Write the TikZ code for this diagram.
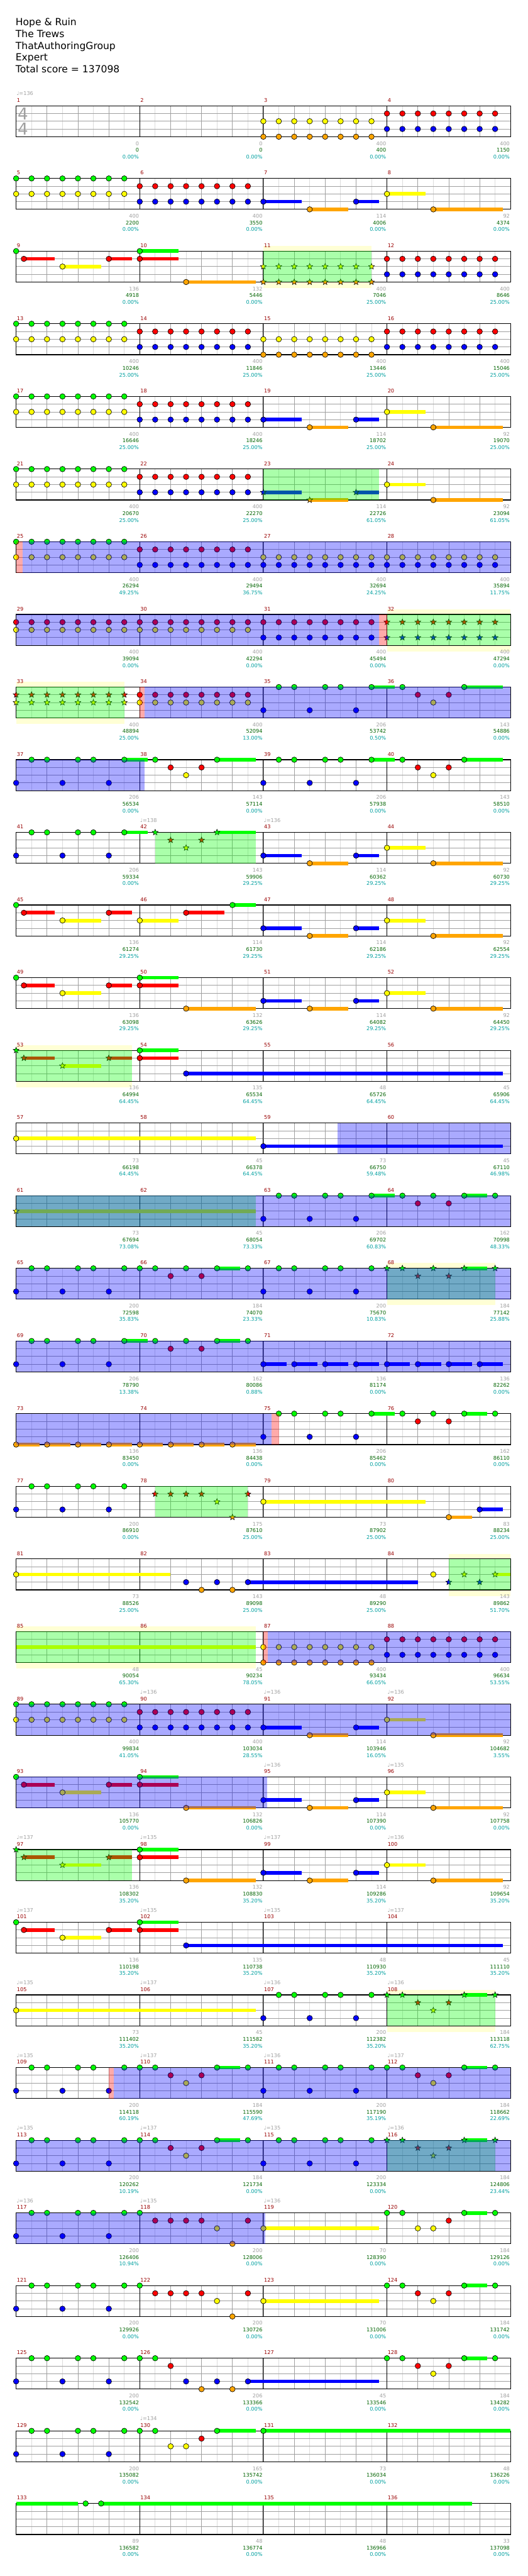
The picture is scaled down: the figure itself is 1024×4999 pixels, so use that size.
\documentclass[tikz,border=0pt]{standalone}
\usepackage{fontspec}
\setmainfont{DejaVu Sans}
\usetikzlibrary{shapes.geometric}
\definecolor{lane0}{HTML}{00FF00}
\definecolor{lane1}{HTML}{FF0000}
\definecolor{lane2}{HTML}{FFFF00}
\definecolor{lane3}{HTML}{0000FF}
\definecolor{lane4}{HTML}{FFA500}
\definecolor{gridgray}{HTML}{A0A0A0}
\definecolor{halfgray}{HTML}{DCDCDC}
\definecolor{barred}{HTML}{990000}
\definecolor{scoregreen}{HTML}{006400}
\definecolor{pctcyan}{HTML}{00A0A0}
\definecolor{phraseyellow}{HTML}{FFFFD5}
\tikzset{
  gem/.style={draw=black,line width=0.4pt},
  sgem/.style={star,star points=5,star point ratio=2.3,draw=black,fill=#1,line width=0.35pt,inner sep=0pt,minimum size=6pt},
  sustain/.style={draw=#1,line width=3.5pt},
  halfbeat/.style={draw=halfgray,line width=0.5pt},
  gridline/.style={draw=gridgray,line width=0.5pt},
  barline/.style={draw=black,line width=0.55pt},
  staffedge/.style={draw=black,line width=0.7pt},
  spg/.style={fill=lane0,fill opacity=0.333},
  spb/.style={fill=lane3,fill opacity=0.333},
  spp/.style={fill=lane1,fill opacity=0.333},
  phrasebg/.style={fill=phraseyellow},
  tinytext/.style={font=\fontsize{5}{6}\selectfont,inner sep=0pt},
  mnum/.style={tinytext,text=barred,anchor=base west},
  tempo/.style={tinytext,text=gridgray,anchor=base west},
  scgray/.style={tinytext,text=gridgray,anchor=base east},
  scgreen/.style={tinytext,text=scoregreen,anchor=base east},
  scpct/.style={tinytext,text=pctcyan,anchor=base east},
  timesig/.style={font=\fontsize{16}{16}\selectfont,text=gridgray,inner sep=0pt},
  heading/.style={font=\fontsize{9.5}{11}\selectfont,anchor=base west,inner sep=0pt},
  staffrow/.style={shift={(31.3,64.3+141*#1)},x=7.5pt,y=-7.5pt}
}
\newcommand{\staffgrid}{%
  \fill[white] (0,0) rectangle (64,4);
  \foreach \x in {2,6,...,62} {\draw[halfbeat] (\x,0) -- (\x,4);}
  \foreach \x in {4,8,...,60} {\draw[gridline] (\x,0) -- (\x,4);}
  \foreach \y in {1,2,3} {\draw[gridline] (0,\y) -- (64,\y);}
  \foreach \x in {16,32,48} {\draw[barline] (\x,0) -- (\x,4);}
  \draw[staffedge] (0,0) rectangle (64,4);}
\newcommand{\gem}[2]{\filldraw[gem,fill=lane#2] (#1,#2) circle[radius=2.65pt];}
\newcommand{\gemsus}[3]{\draw[sustain=lane#2] (#1,#2) -- (#3,#2);\gem{#1}{#2}}
\newcommand{\stargem}[2]{\node[sgem=lane#2] at (#1,#2) {};}
\newcommand{\starsus}[3]{\draw[sustain=lane#2] (#1,#2) -- (#3,#2);\stargem{#1}{#2}}
\newcommand{\gemrun}[2]{\foreach \p in {0,2,...,14} {\gem{#1+\p}{#2}}}
\newcommand{\starrun}[2]{\foreach \p in {0,2,...,14} {\stargem{#1+\p}{#2}}}
\newcommand{\riff}[1]{\foreach \p in {0,6,12} {\gem{#1+\p}{3}}\foreach \p in {2,4,8,10} {\gem{#1+\p}{0}}}
\newcommand{\backhalf}{\gemsus{32}{3}{37}\gemsus{38}{4}{43}\gemsus{44}{3}{47}\gemsus{48}{2}{53}\gemsus{54}{4}{63}}
\newcommand{\phrase}[2]{\fill[phrasebg] (#1,-0.67) rectangle (#2,4.78);}
\newcommand{\spgreen}[2]{\fill[spg] (#1,0) rectangle (#2,4);}
\newcommand{\spblue}[2]{\fill[spb] (#1,0) rectangle (#2,4);}
\newcommand{\sppink}[2]{\fill[spp] (#1,0) rectangle (#2,4);}
\newcommand{\barnums}[1]{\foreach \k in {0,1,2,3} {\pgfmathtruncatemacro{\barno}{#1+\k}\node[mnum] at (16*\k+0.07,-0.47) {\barno};}}
\newcommand{\bpm}[2]{\node[tempo] at (#1+0.05,-1.33) {♩=#2};}
\newcommand{\mscore}[4]{\node[scgray] at (16*#1-0.08,5.11) {#2};\node[scgreen] at (16*#1-0.08,5.98) {#3};\node[scpct] at (16*#1-0.08,6.85) {#4\%};}

\begin{document}
\begin{tikzpicture}[x=0.5pt,y=-0.5pt]
\fill[white] (0,0) rectangle (1024,4999);
\useasboundingbox (0,0) rectangle (1024,4999);
\node[heading] (song) at (30,49.3) {Hope \& Ruin};
\node[heading] (band) at (30,72.3) {The Trews};
\node[heading] (charter) at (30,95.3) {ThatAuthoringGroup};
\node[heading] (level) at (30,118.3) {Expert};
\node[heading] (total) at (30,141.3) {Total score = 137098};

\begin{scope}[staffrow=1]
\staffgrid
\node[timesig] (tsup) at (0.88,1) {4};
\node[timesig] (tsdown) at (0.88,3) {4};
\gemrun{32}{2}\gemrun{32}{4}\gemrun{48}{1}\gemrun{48}{3}
\barnums{1}
\bpm{0}{136}
\mscore{1}{0}{0}{0.00}\mscore{2}{0}{0}{0.00}\mscore{3}{400}{400}{0.00}\mscore{4}{400}{1150}{0.00}
\end{scope}

\begin{scope}[staffrow=2]
\staffgrid
\gemrun{0}{0}\gemrun{0}{2}\gemrun{16}{1}\gemrun{16}{3}
\backhalf
\barnums{5}
\mscore{1}{400}{2200}{0.00}\mscore{2}{400}{3550}{0.00}\mscore{3}{114}{4006}{0.00}\mscore{4}{92}{4374}{0.00}
\end{scope}

\begin{scope}[staffrow=3]
\phrase{32}{46}
\staffgrid
\gem{0}{0}\gemsus{1}{1}{5}\gemsus{6}{2}{11}\gemsus{12}{1}{15}
\gemsus{16}{0}{21}\gemsus{16}{1}{21}\gemsus{22}{4}{31}
\starrun{32}{2}\starrun{32}{4}
\gemrun{48}{1}\gemrun{48}{3}
\spgreen{32}{46}
\barnums{9}
\mscore{1}{136}{4918}{0.00}\mscore{2}{132}{5446}{0.00}\mscore{3}{400}{7046}{25.00}\mscore{4}{400}{8646}{25.00}
\end{scope}

\begin{scope}[staffrow=4]
\staffgrid
\gemrun{0}{0}\gemrun{0}{2}\gemrun{16}{1}\gemrun{16}{3}
\gemrun{32}{2}\gemrun{32}{4}\gemrun{48}{1}\gemrun{48}{3}
\barnums{13}
\mscore{1}{400}{10246}{25.00}\mscore{2}{400}{11846}{25.00}\mscore{3}{400}{13446}{25.00}\mscore{4}{400}{15046}{25.00}
\end{scope}

\begin{scope}[staffrow=5]
\staffgrid
\gemrun{0}{0}\gemrun{0}{2}\gemrun{16}{1}\gemrun{16}{3}
\backhalf
\barnums{17}
\mscore{1}{400}{16646}{25.00}\mscore{2}{400}{18246}{25.00}\mscore{3}{114}{18702}{25.00}\mscore{4}{92}{19070}{25.00}
\end{scope}

\begin{scope}[staffrow=6]
\staffgrid
\gemrun{0}{0}\gemrun{0}{2}\gemrun{16}{1}\gemrun{16}{3}
\starsus{32}{3}{37}\starsus{38}{4}{43}\starsus{44}{3}{47}\gemsus{48}{2}{53}\gemsus{54}{4}{63}
\spgreen{32}{47}
\barnums{21}
\mscore{1}{400}{20670}{25.00}\mscore{2}{400}{22270}{25.00}\mscore{3}{114}{22726}{61.05}\mscore{4}{92}{23094}{61.05}
\end{scope}

\begin{scope}[staffrow=7]
\staffgrid
\gemrun{0}{0}\gemrun{0}{2}\gemrun{16}{1}\gemrun{16}{3}
\gemrun{32}{2}\gemrun{32}{3}\gemrun{48}{2}\gemrun{48}{3}
\spblue{0.83}{64}\sppink{0}{0.83}
\barnums{25}
\mscore{1}{400}{26294}{49.25}\mscore{2}{400}{29494}{36.75}\mscore{3}{400}{32694}{24.25}\mscore{4}{400}{35894}{11.75}
\end{scope}

\begin{scope}[staffrow=8]
\phrase{48}{64}
\staffgrid
\gemrun{0}{1}\gemrun{0}{2}\gemrun{16}{1}\gemrun{16}{2}
\gemrun{32}{1}\gemrun{32}{3}\starrun{48}{1}\starrun{48}{3}
\spgreen{48}{64}\spblue{0}{47}\sppink{47}{48}
\barnums{29}
\mscore{1}{400}{39094}{0.00}\mscore{2}{400}{42294}{0.00}\mscore{3}{400}{45494}{0.00}\mscore{4}{400}{47294}{0.00}
\end{scope}

\begin{scope}[staffrow=9]
\phrase{0}{14}
\staffgrid
\starrun{0}{1}\starrun{0}{2}\gemrun{16}{1}\gemrun{16}{2}
\riff{32}\gemsus{46}{0}{49}
\gem{50}{0}\gem{52}{1}\gem{54}{2}\gem{56}{1}\gemsus{58}{0}{63}
\spgreen{0}{14}\spblue{16.6}{64}\sppink{16}{16.6}
\barnums{33}
\mscore{1}{400}{48894}{25.00}\mscore{2}{400}{52094}{13.00}\mscore{3}{206}{53742}{0.50}\mscore{4}{143}{54886}{0.00}
\end{scope}

\begin{scope}[staffrow=10]
\staffgrid
\riff{0}\gemsus{14}{0}{17}
\gem{18}{0}\gem{20}{1}\gem{22}{2}\gem{24}{1}\gemsus{26}{0}{31}
\riff{32}\gemsus{46}{0}{49}
\gem{50}{0}\gem{52}{1}\gem{54}{2}\gem{56}{1}\gemsus{58}{0}{63}
\spblue{0}{16.6}
\barnums{37}
\mscore{1}{206}{56534}{0.00}\mscore{2}{143}{57114}{0.00}\mscore{3}{206}{57938}{0.00}\mscore{4}{143}{58510}{0.00}
\end{scope}

\begin{scope}[staffrow=11]
\staffgrid
\riff{0}\gemsus{14}{0}{17}
\stargem{18}{0}\stargem{20}{1}\stargem{22}{2}\stargem{24}{1}\starsus{26}{0}{31}
\backhalf
\spgreen{18}{31}
\barnums{41}
\bpm{16}{138}\bpm{32}{136}
\mscore{1}{206}{59334}{0.00}\mscore{2}{143}{59906}{29.25}\mscore{3}{114}{60362}{29.25}\mscore{4}{92}{60730}{29.25}
\end{scope}

\begin{scope}[staffrow=12]
\staffgrid
\gem{0}{0}\gemsus{1}{1}{5}\gemsus{6}{2}{11}\gemsus{12}{1}{15}
\gemsus{16}{2}{21}\gemsus{22}{1}{27}\gemsus{28}{0}{31}
\backhalf
\barnums{45}
\mscore{1}{136}{61274}{29.25}\mscore{2}{114}{61730}{29.25}\mscore{3}{114}{62186}{29.25}\mscore{4}{92}{62554}{29.25}
\end{scope}

\begin{scope}[staffrow=13]
\staffgrid
\gem{0}{0}\gemsus{1}{1}{5}\gemsus{6}{2}{11}\gemsus{12}{1}{15}
\gemsus{16}{0}{21}\gemsus{16}{1}{21}\gemsus{22}{4}{31}
\backhalf
\barnums{49}
\mscore{1}{136}{63098}{29.25}\mscore{2}{132}{63626}{29.25}\mscore{3}{114}{64082}{29.25}\mscore{4}{92}{64450}{29.25}
\end{scope}

\begin{scope}[staffrow=14]
\phrase{0}{15}
\staffgrid
\stargem{0}{0}\starsus{1}{1}{5}\starsus{6}{2}{11}\starsus{12}{1}{15}
\gemsus{16}{0}{21}\gemsus{16}{1}{21}\gemsus{22}{3}{63}
\spgreen{0}{15}
\barnums{53}
\mscore{1}{136}{64994}{64.45}\mscore{2}{135}{65534}{64.45}\mscore{3}{48}{65726}{64.45}\mscore{4}{45}{65906}{64.45}
\end{scope}

\begin{scope}[staffrow=15]
\staffgrid
\gemsus{0}{2}{31}\gemsus{32}{3}{63}
\spblue{41.57}{64}
\barnums{57}
\mscore{1}{73}{66198}{64.45}\mscore{2}{45}{66378}{64.45}\mscore{3}{73}{66750}{59.48}\mscore{4}{45}{67110}{46.98}
\end{scope}

\begin{scope}[staffrow=16]
\staffgrid
\starsus{0}{2}{31}
\riff{32}\gemsus{46}{0}{49}
\gem{50}{0}\gem{52}{1}\gem{54}{0}\gem{56}{1}\gemsus{58}{0}{61}\gem{62}{0}
\spgreen{0}{31}\spblue{0}{64}
\barnums{61}
\mscore{1}{73}{67694}{73.08}\mscore{2}{45}{68054}{73.33}\mscore{3}{206}{69702}{60.83}\mscore{4}{162}{70998}{48.33}
\end{scope}

\begin{scope}[staffrow=17]
\phrase{48}{62}
\staffgrid
\riff{0}\gem{14}{0}
\gem{16}{0}\gem{18}{0}\gem{20}{1}\gem{22}{0}\gem{24}{1}\gemsus{26}{0}{29}\gem{30}{0}
\riff{32}\gem{46}{0}
\stargem{48}{0}\stargem{50}{0}\stargem{52}{1}\stargem{54}{0}\stargem{56}{1}\starsus{58}{0}{61}\stargem{62}{0}
\spgreen{48}{62}\spblue{0}{64}
\barnums{65}
\mscore{1}{200}{72598}{35.83}\mscore{2}{184}{74070}{23.33}\mscore{3}{200}{75670}{10.83}\mscore{4}{184}{77142}{25.88}
\end{scope}

\begin{scope}[staffrow=18]
\staffgrid
\riff{0}\gemsus{14}{0}{17}
\gem{18}{0}\gem{20}{1}\gem{22}{0}\gem{24}{1}\gemsus{26}{0}{29}\gem{30}{0}
\foreach \q in {32,36,...,60} {\gemsus{\q}{3}{\q+3}}
\spblue{0}{64}
\barnums{69}
\mscore{1}{206}{78790}{13.38}\mscore{2}{162}{80086}{0.88}\mscore{3}{136}{81174}{0.00}\mscore{4}{136}{82262}{0.00}
\end{scope}

\begin{scope}[staffrow=19]
\staffgrid
\foreach \q in {0,4,...,28} {\gemsus{\q}{4}{\q+3}}
\riff{32}\gemsus{46}{0}{49}
\gem{50}{0}\gem{52}{1}\gem{54}{0}\gem{56}{1}\gemsus{58}{0}{61}\gem{62}{0}
\spblue{0}{33.1}\sppink{33.1}{34}
\barnums{73}
\mscore{1}{136}{83450}{0.00}\mscore{2}{136}{84438}{0.00}\mscore{3}{206}{85462}{0.00}\mscore{4}{162}{86110}{0.00}
\end{scope}

\begin{scope}[staffrow=20]
\staffgrid
\riff{0}\gem{14}{0}
\stargem{18}{1}\stargem{20}{1}\stargem{22}{1}\stargem{24}{1}\stargem{26}{2}\stargem{28}{4}\stargem{30}{1}
\gemsus{32}{2}{53}\gemsus{56}{4}{59}\gemsus{60}{3}{63}
\spgreen{18}{30}
\barnums{77}
\mscore{1}{200}{86910}{0.00}\mscore{2}{175}{87610}{25.00}\mscore{3}{73}{87902}{25.00}\mscore{4}{83}{88234}{25.00}
\end{scope}

\begin{scope}[staffrow=21]
\phrase{56}{64}
\staffgrid
\gemsus{0}{2}{20}
\gem{22}{3}\gem{24}{4}\gem{26}{3}\gem{28}{4}\gemsus{30}{3}{52}
\gem{54}{2}
\stargem{56}{3}\stargem{58}{2}\stargem{60}{3}\starsus{62}{2}{64}
\spgreen{56}{64}
\barnums{81}
\mscore{1}{73}{88526}{25.00}\mscore{2}{143}{89098}{25.00}\mscore{3}{48}{89290}{25.00}\mscore{4}{143}{89862}{51.70}
\end{scope}

\begin{scope}[staffrow=22]
\phrase{0}{31}
\staffgrid
\draw[sustain=lane2] (0,2) -- (31,2);
\gemrun{32}{2}\gemrun{32}{4}\gemrun{48}{1}\gemrun{48}{3}
\spgreen{0}{31}\spblue{32.6}{64}\sppink{32}{32.6}
\barnums{85}
\mscore{1}{48}{90054}{65.30}\mscore{2}{45}{90234}{78.05}\mscore{3}{400}{93434}{66.05}\mscore{4}{400}{96634}{53.55}
\end{scope}

\begin{scope}[staffrow=23]
\staffgrid
\gemrun{0}{0}\gemrun{0}{2}\gemrun{16}{1}\gemrun{16}{3}
\backhalf
\spblue{0}{64}
\barnums{89}
\bpm{16}{136}\bpm{32}{136}\bpm{48}{136}
\mscore{1}{400}{99834}{41.05}\mscore{2}{400}{103034}{28.55}\mscore{3}{114}{103946}{16.05}\mscore{4}{92}{104682}{3.55}
\end{scope}

\begin{scope}[staffrow=24]
\staffgrid
\gem{0}{0}\gemsus{1}{1}{5}\gemsus{6}{2}{11}\gemsus{12}{1}{15}
\gemsus{16}{0}{21}\gemsus{16}{1}{21}\gemsus{22}{4}{31}
\backhalf
\spblue{0}{32.5}
\barnums{93}
\bpm{32}{136}\bpm{48}{135}
\mscore{1}{136}{105770}{0.00}\mscore{2}{132}{106826}{0.00}\mscore{3}{114}{107390}{0.00}\mscore{4}{92}{107758}{0.00}
\end{scope}

\begin{scope}[staffrow=25]
\staffgrid
\stargem{0}{0}\starsus{1}{1}{5}\starsus{6}{2}{11}\starsus{12}{1}{15}
\gemsus{16}{0}{21}\gemsus{16}{1}{21}\gemsus{22}{4}{31}
\backhalf
\spgreen{0}{15}
\barnums{97}
\bpm{0}{137}\bpm{16}{135}\bpm{32}{137}\bpm{48}{136}
\mscore{1}{136}{108302}{35.20}\mscore{2}{132}{108830}{35.20}\mscore{3}{114}{109286}{35.20}\mscore{4}{92}{109654}{35.20}
\end{scope}

\begin{scope}[staffrow=26]
\staffgrid
\gem{0}{0}\gemsus{1}{1}{5}\gemsus{6}{2}{11}\gemsus{12}{1}{15}
\gemsus{16}{0}{21}\gemsus{16}{1}{21}\gemsus{22}{3}{63}
\barnums{101}
\bpm{0}{137}\bpm{16}{135}\bpm{32}{135}\bpm{48}{137}
\mscore{1}{136}{110198}{35.20}\mscore{2}{135}{110738}{35.20}\mscore{3}{48}{110930}{35.20}\mscore{4}{45}{111110}{35.20}
\end{scope}

\begin{scope}[staffrow=27]
\phrase{48}{62}
\staffgrid
\gemsus{0}{2}{31}
\riff{32}\gem{46}{0}
\stargem{48}{0}\stargem{50}{0}\stargem{52}{1}\stargem{54}{2}\stargem{56}{1}\starsus{58}{0}{61}\stargem{62}{0}
\spgreen{48}{62}
\barnums{105}
\bpm{0}{135}\bpm{16}{137}\bpm{32}{136}\bpm{48}{136}
\mscore{1}{73}{111402}{35.20}\mscore{2}{45}{111582}{35.20}\mscore{3}{200}{112382}{35.20}\mscore{4}{184}{113118}{62.75}
\end{scope}

\begin{scope}[staffrow=28]
\staffgrid
\riff{0}\gem{14}{0}
\gem{16}{0}\gem{18}{0}\gem{20}{1}\gem{22}{2}\gem{24}{1}\gemsus{26}{0}{29}\gem{30}{0}
\riff{32}\gem{46}{0}
\gem{48}{0}\gem{50}{0}\gem{52}{1}\gem{54}{2}\gem{56}{1}\gemsus{58}{0}{61}\gem{62}{0}
\spblue{12.65}{64}\sppink{12}{12.65}
\barnums{109}
\bpm{0}{135}\bpm{16}{137}\bpm{32}{136}\bpm{48}{137}
\mscore{1}{200}{114118}{60.19}\mscore{2}{184}{115590}{47.69}\mscore{3}{200}{117190}{35.19}\mscore{4}{184}{118662}{22.69}
\end{scope}

\begin{scope}[staffrow=29]
\staffgrid
\riff{0}\gem{14}{0}
\gem{16}{0}\gem{18}{0}\gem{20}{1}\gem{22}{2}\gem{24}{1}\gemsus{26}{0}{29}\gem{30}{0}
\riff{32}\gem{46}{0}
\stargem{48}{0}\stargem{50}{0}\stargem{52}{1}\stargem{54}{2}\stargem{56}{1}\starsus{58}{0}{61}\stargem{62}{0}
\spgreen{48}{62}\spblue{0}{64}
\barnums{113}
\bpm{0}{135}\bpm{16}{137}\bpm{32}{135}\bpm{48}{136}
\mscore{1}{200}{120262}{10.19}\mscore{2}{184}{121734}{0.00}\mscore{3}{200}{123334}{0.00}\mscore{4}{184}{124806}{23.44}
\end{scope}

\begin{scope}[staffrow=30]
\staffgrid
\riff{0}\gem{14}{0}
\gem{16}{0}\gem{18}{1}\gem{20}{1}\gem{22}{1}\gem{24}{1}\gem{26}{2}\gem{28}{4}\gem{30}{1}
\gemsus{32}{2}{47}
\gem{48}{0}\gem{50}{0}\gem{52}{2}\gem{54}{2}\gem{56}{1}\gemsus{58}{0}{61}\gem{62}{0}
\spblue{0}{32.26}
\barnums{117}
\bpm{0}{136}\bpm{16}{135}\bpm{32}{136}
\mscore{1}{200}{126406}{10.94}\mscore{2}{200}{128006}{0.00}\mscore{3}{70}{128390}{0.00}\mscore{4}{184}{129126}{0.00}
\end{scope}

\begin{scope}[staffrow=31]
\staffgrid
\riff{0}\gem{14}{0}
\gem{16}{0}\gem{18}{1}\gem{20}{1}\gem{22}{1}\gem{24}{1}\gem{26}{2}\gem{28}{4}\gem{30}{1}
\gemsus{32}{2}{47}
\gem{48}{0}\gem{50}{0}\gem{52}{1}\gem{54}{2}\gem{56}{1}\gemsus{58}{0}{61}\gem{62}{0}
\barnums{121}
\mscore{1}{200}{129926}{0.00}\mscore{2}{200}{130726}{0.00}\mscore{3}{70}{131006}{0.00}\mscore{4}{184}{131742}{0.00}
\end{scope}

\begin{scope}[staffrow=32]
\staffgrid
\riff{0}\gem{14}{0}
\gem{16}{0}\gem{18}{0}\gem{20}{1}\gem{22}{3}\gem{24}{4}\gem{26}{3}\gem{28}{4}\gemsus{30}{3}{47}
\gem{48}{0}\gem{50}{0}\gem{52}{1}\gem{54}{2}\gem{56}{1}\gemsus{58}{0}{61}\gem{62}{0}
\barnums{125}
\mscore{1}{200}{132542}{0.00}\mscore{2}{206}{133366}{0.00}\mscore{3}{45}{133546}{0.00}\mscore{4}{184}{134282}{0.00}
\end{scope}

\begin{scope}[staffrow=33]
\staffgrid
\riff{0}\gem{14}{0}
\gem{16}{0}\gem{18}{0}\gem{20}{2}\gem{22}{2}\gem{24}{1}\gemsus{26}{0}{31}\gemsus{32}{0}{64}
\barnums{129}
\bpm{16}{134}
\mscore{1}{200}{135082}{0.00}\mscore{2}{165}{135742}{0.00}\mscore{3}{73}{136034}{0.00}\mscore{4}{48}{136226}{0.00}
\end{scope}

\begin{scope}[staffrow=34]
\staffgrid
\draw[sustain=lane0] (0,0) -- (8,0);
\gem{9}{0}\gemsus{11}{0}{59}
\barnums{133}
\mscore{1}{89}{136582}{0.00}\mscore{2}{48}{136774}{0.00}\mscore{3}{48}{136966}{0.00}\mscore{4}{33}{137098}{0.00}
\end{scope}
\end{tikzpicture}
\end{document}
